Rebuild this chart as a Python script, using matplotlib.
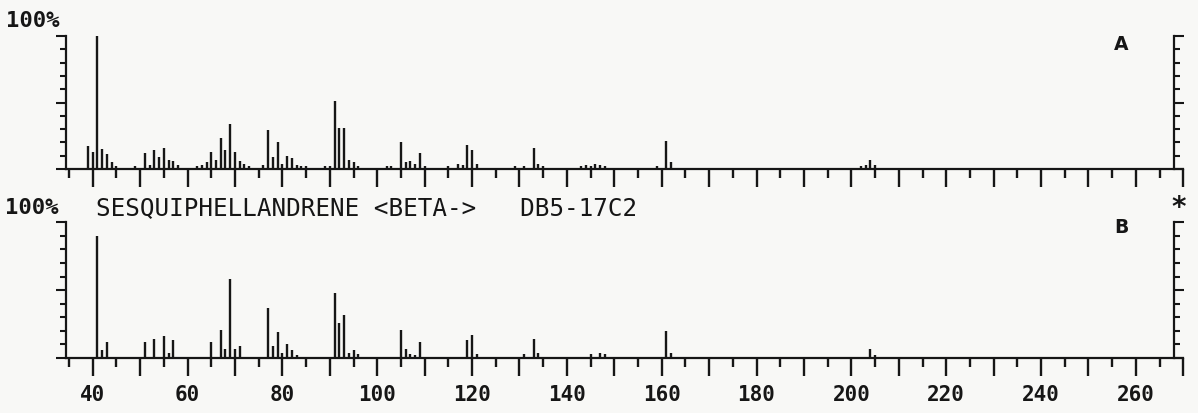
import matplotlib.pyplot as plt
from matplotlib.ticker import FixedLocator, MultipleLocator

W, H = 1198, 414

# spectrum A (sample)
mz_a = [39, 40, 41, 42, 43, 44, 45, 47, 49,
        51, 52, 53, 54, 55, 56, 57, 58, 61, 62, 63,
        64, 65, 66, 67, 68, 69, 70, 71, 72, 73, 74, 76,
        77, 78, 79, 80, 81, 82, 83, 84, 85, 86, 87, 89, 90,
        91, 92, 93, 94, 95, 96, 97, 98, 99, 101, 102, 103,
        105, 106, 107, 108, 109, 110, 111, 115, 116, 117, 118, 119, 120, 121, 122,
        128, 129, 131, 133, 134, 135,
        143, 144, 145, 146, 147, 148, 155, 159, 161, 162, 163,
        189, 202, 203, 204, 205]
int_a = [17, 13, 100, 15, 11, 5, 2, 1, 2,
         12, 3, 14, 9, 16, 7, 6, 3, 1, 2, 3,
         5, 13, 7, 23, 14, 34, 13, 6, 4, 2, 1, 3,
         29, 9, 20, 4, 10, 8, 3, 2, 2, 1, 1, 2, 2,
         51, 31, 31, 7, 5, 2, 1, 1, 1, 1, 2, 2,
         20, 5, 6, 4, 12, 2, 1, 2, 1, 4, 3, 18, 14, 4, 1,
         1, 2, 2, 16, 4, 2,
         2, 3, 2, 4, 3, 2, 1, 2, 21, 5, 1,
         1, 2, 3, 7, 3]

# spectrum B (library: sesquiphellandrene <beta->)
mz_b = [41, 42, 43,
        51, 53, 55, 56, 57,
        65, 67, 68, 69, 70, 71,
        77, 78, 79, 80, 81, 82, 83,
        91, 92, 93, 94, 95, 96,
        105, 106, 107, 108, 109,
        119, 120, 121,
        131, 133, 134,
        145, 147, 148,
        161, 162,
        204, 205]
int_b = [90, 6, 12,
         12, 14, 16, 4, 13,
         12, 21, 7, 58, 7, 9,
         37, 9, 19, 4, 10, 6, 2,
         48, 26, 32, 4, 6, 3,
         21, 7, 3, 2, 12,
         13, 17, 3,
         3, 14, 4,
         3, 4, 3,
         20, 4,
         7, 2]

x_major = list(range(40, 271, 10))
x_labels = [str(v) if v % 20 == 0 and v <= 260 else '' for v in x_major]
x_minor = list(range(35, 270, 10))

ink = '#161616'
mono = 'DejaVu Sans Mono'

fig = plt.figure(figsize=(W / 100, H / 100), dpi=100)
fig.patch.set_facecolor('#f8f8f6')


def box(x0, y0, x1, y1):
    # pixel box (left, top, right, bottom) -> figure fraction
    return [x0 / W, 1 - y1 / H, (x1 - x0) / W, (y1 - y0) / H]


ax_a = fig.add_axes(box(65.7, 37, 1183.3, 170))
ax_b = fig.add_axes(box(65.7, 223.3, 1183.3, 359))

for ax, mz, inten, show in [(ax_a, mz_a, int_a, False), (ax_b, mz_b, int_b, True)]:
    ax.set_facecolor('none')
    ax.vlines(mz, 0, inten, color=ink, lw=1.7)
    ax.set_xlim(34.3, 270)
    ax.set_ylim(0, 100)
    ax.spines['top'].set_visible(False)
    ax.spines['right'].set_position(('data', 268))
    for s in ax.spines.values():
        s.set_linewidth(1.6)
        s.set_color(ink)
    ax.set_xticks(x_major)
    ax.set_xticklabels(x_labels if show else [''] * len(x_major))
    ax.xaxis.set_minor_locator(FixedLocator(x_minor))
    ax.set_yticks([0, 50, 100])
    ax.set_yticklabels([])
    ax.yaxis.set_minor_locator(MultipleLocator(10))
    ax.tick_params(axis='x', which='major', length=13, width=1.7, color=ink, pad=6)
    ax.tick_params(axis='x', which='minor', length=6.5, width=1.7, color=ink)
    ax.tick_params(axis='y', which='major', length=7.5, width=1.5, color=ink,
                   left=True, right=True)
    ax.tick_params(axis='y', which='minor', length=4, width=1.5, color=ink,
                   left=True, right=True)
    for lab in ax.get_xticklabels():
        lab.set_fontfamily(mono)
        lab.set_fontsize(15)
        lab.set_fontweight('bold')
        lab.set_color(ink)


def ftext(x, y, s, **kw):
    fig.text(x / W, 1 - y / H, s, color=ink, va='center', **kw)


ftext(6, 21, '100%', family=mono, fontsize=16, fontweight='bold')
ftext(5, 208, '100%', family=mono, fontsize=16, fontweight='bold')
ftext(96, 208, 'SESQUIPHELLANDRENE <BETA->   DB5-17C2', family=mono, fontsize=17.5)
ftext(1121, 44, 'A', ha='center', fontsize=13.5, fontweight='bold')
ftext(1121, 228, 'B', ha='center', fontsize=13.5, fontweight='bold')
ftext(1179, 208, '*', ha='center', fontsize=20, fontweight='bold')

fig.savefig('out.png', dpi=100, facecolor=fig.get_facecolor())
